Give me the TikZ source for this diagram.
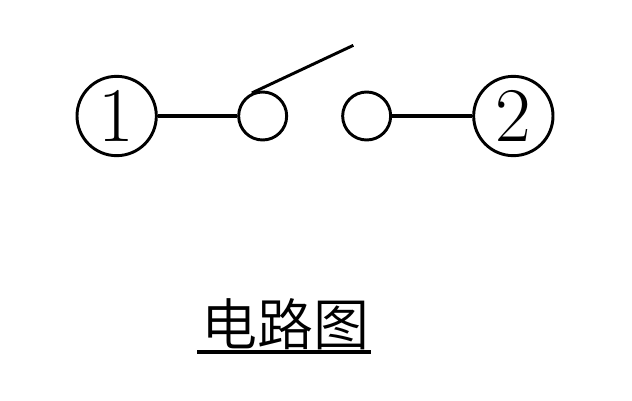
\documentclass[tikz,border=0pt]{standalone}
\usepackage{fontspec}
\newfontfamily\cjk{Noto Sans CJK SC DemiLight}
\begin{document}
\begin{tikzpicture}[x=1pt,y=-1pt,every node/.style={draw=none},
  wire/.style={line width=2.2pt},
  hwire/.style={line width=2.7pt},
  term/.style={circle,draw,wire,minimum size=59.5pt,inner sep=0pt,font=\fontsize{58}{58}\selectfont},
  contact/.style={circle,draw,wire,minimum size=36pt,inner sep=0pt}]
  \useasboundingbox (0,0) rectangle (474,300);
  % Nodes
  \node[term] (T1) at (87.5,87) {1};
  \node[contact] (C1) at (197,87) {};
  \node[contact] (C2) at (275,87) {};
  \node[term] (T2) at (385,87) {2};
  \coordinate (S) at (265,34);
  \node[inner sep=0pt,font=\cjk\fontsize{42}{42}\selectfont] (L) at (214,243.5) {电路图};
  \coordinate (UL) at (148,264);
  \coordinate (UR) at (278,264);

  % Lines
  \draw[hwire] (T1) -- (C1);
  \draw[hwire] (C2) -- (T2);
  \draw[wire] (C1.115) -- (S);
  \draw[hwire] (UL) -- (UR);
\end{tikzpicture}
\end{document}
